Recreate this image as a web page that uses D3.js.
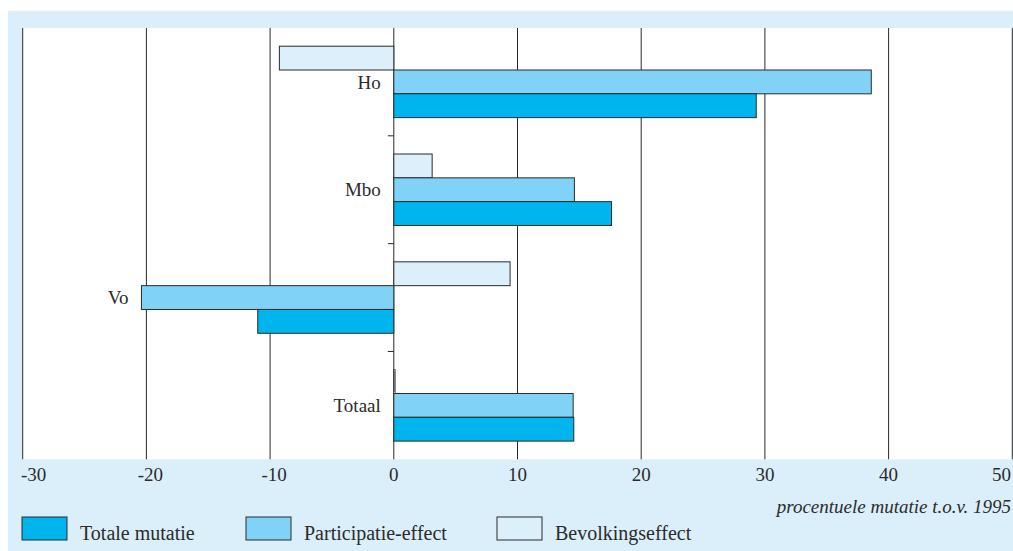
<!DOCTYPE html>
<html><head><meta charset="utf-8">
<script src="https://cdn.jsdelivr.net/npm/d3@7"></script>
<style>body{margin:0;background:#fff;overflow:hidden} svg{display:block;}</style>
</head><body><svg id="c" width="1013" height="551"></svg>
<script>
const categories = ["Ho", "Mbo", "Vo", "Totaal"];
const seriesNames = ["Bevolkingseffect", "Participatie-effect", "Totale mutatie"];
const bevolkingseffect = [-9.25, 3.1, 9.4, 0.1];
const participatieEffect = [38.6, 14.6, -20.4, 14.5];
const totaleMutatie = [29.3, 17.6, -11.0, 14.55];
const xTicks = [-30, -20, -10, 0, 10, 20, 30, 40, 50];
const legendOrder = ["Totale mutatie", "Participatie-effect", "Bevolkingseffect"];
const axisTitle = "procentuele mutatie t.o.v. 1995";

const colors = {
  "Totale mutatie": "#00b5ed",
  "Participatie-effect": "#80d3f6",
  "Bevolkingseffect": "#dcf0fb"
};
const seriesValues = {
  "Bevolkingseffect": bevolkingseffect,
  "Participatie-effect": participatieEffect,
  "Totale mutatie": totaleMutatie
};
const FONT = "'Liberation Serif', 'Times New Roman', serif";
const ink = "#2b2b2b";

const svg = d3.select("#c");
// panel
svg.append("rect").attr("x", 8).attr("y", 11).attr("width", 1100).attr("height", 600).attr("fill", "#dbeffa");

const plot = {left: 22.7, right: 1012.3, top: 28, bottom: 459.3};
const x = d3.scaleLinear().domain([-30, 50]).range([plot.left, plot.right]);
const y = d3.scaleBand().domain(categories).range([plot.top, plot.bottom]).paddingInner(0).paddingOuter(0);
const yInner = d3.scaleBand().domain(seriesNames).range([0, y.bandwidth()]).paddingInner(0).paddingOuter(0.764);

svg.append("rect").attr("x", plot.left).attr("y", plot.top)
  .attr("width", plot.right - plot.left).attr("height", plot.bottom - plot.top)
  .attr("fill", "#fff");

// gridlines
svg.append("g").selectAll("line").data(xTicks).join("line")
  .attr("x1", d => x(d)).attr("x2", d => x(d))
  .attr("y1", plot.top).attr("y2", plot.bottom)
  .attr("stroke", ink).attr("stroke-width", 1);

// category tick marks at band boundaries
svg.append("g").selectAll("line").data(categories.slice(1)).join("line")
  .attr("x1", x(0) - 6).attr("x2", x(0))
  .attr("y1", d => y(d)).attr("y2", d => y(d))
  .attr("stroke", ink).attr("stroke-width", 1);

// bars
const groups = svg.append("g").selectAll("g").data(categories).join("g")
  .attr("transform", d => `translate(0,${y(d)})`);
groups.selectAll("rect").data((c, i) => seriesNames.map(s => ({s, v: seriesValues[s][i]})))
  .join("rect")
  .attr("x", d => x(Math.min(0, d.v)))
  .attr("width", d => Math.abs(x(d.v) - x(0)))
  .attr("y", d => yInner(d.s))
  .attr("height", yInner.bandwidth())
  .attr("fill", d => colors[d.s])
  .attr("stroke", ink).attr("stroke-width", 1);

// category labels
svg.append("g").selectAll("text").data(categories).join("text")
  .attr("x", (c, i) => x(Math.min(0, participatieEffect[i])) - 13)
  .attr("y", c => y(c) + yInner("Participatie-effect") + yInner.bandwidth() / 2)
  .attr("dy", "0.35em")
  .attr("text-anchor", "end")
  .attr("font-family", FONT).attr("font-size", 19).attr("fill", ink)
  .text(c => c);

// x tick labels
const tl = svg.append("g").selectAll("text").data(xTicks).join("text")
  .attr("y", 481)
  .attr("text-anchor", "middle")
  .attr("font-family", FONT).attr("font-size", 19).attr("fill", ink)
  .text(d => String(d))
  .attr("x", d => x(d) + (d < 0 ? 4 : 0));
tl.each(function(d) {
  const w = this.getComputedTextLength();
  let cx = +this.getAttribute("x");
  if (cx - w / 2 < 21) cx = 21 + w / 2;
  if (cx + w / 2 > 1011) cx = 1011 - w / 2;
  this.setAttribute("x", cx);
});

// axis title
svg.append("text").attr("x", 1011).attr("y", 513)
  .attr("text-anchor", "end")
  .attr("font-family", FONT).attr("font-style", "italic").attr("font-size", 19).attr("fill", ink)
  .text(axisTitle);

// legend
const legendX = [22, 246, 497];
const lg = svg.append("g").selectAll("g").data(legendOrder).join("g")
  .attr("transform", (d, i) => `translate(${legendX[i]},517)`);
lg.append("rect").attr("width", 45).attr("height", 23)
  .attr("fill", d => colors[d]).attr("stroke", ink).attr("stroke-width", 1);
lg.append("text").attr("x", 58).attr("y", 23)
  .attr("font-family", FONT).attr("font-size", 20).attr("fill", ink)
  .text(d => d);
</script>
</body></html>
